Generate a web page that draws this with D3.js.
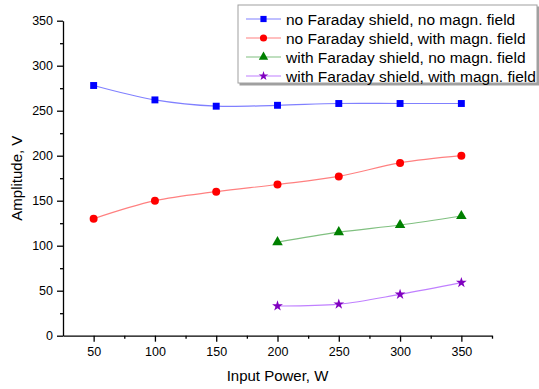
<!DOCTYPE html>
<html>
<head>
<meta charset="utf-8">
<script src="https://cdn.jsdelivr.net/npm/d3@7"></script>
<style>
  body { margin: 0; background: #fff; }
  svg { font-family: "Liberation Sans", Arial, sans-serif; }
  .axis path, .axis line { stroke: #000; stroke-width: 1.3; }
  .axis text { font-size: 12.5px; fill: #000; }
</style>
</head>
<body>
<svg width="539" height="389"></svg>
<script>
// data
const power = [50, 100, 150, 200, 250, 300, 350];
const noShieldNoField = [278, 262, 255, 256, 258, 258, 258];
const noShieldField = [130, 150, 160, 168, 177, 192, 200];
const powerShield = [200, 250, 300, 350];
const shieldNoField = [104, 115, 123, 133];
const shieldField = [33, 35, 46, 59];
const xTicks = [50, 100, 150, 200, 250, 300, 350];
const yTicks = [0, 50, 100, 150, 200, 250, 300, 350];

const series = [
    { name: 'no Faraday shield, no magn. field', xs: power, ys: noShieldNoField, color: '#0000ff', line: '#8080ff', sym: d3.symbolSquare, size: 48 },
    { name: 'no Faraday shield, with magn. field', xs: power, ys: noShieldField, color: '#ff0000', line: '#ff8080', sym: d3.symbolCircle, size: 50 },
    { name: 'with Faraday shield, no magn. field', xs: powerShield, ys: shieldNoField, color: '#008000', line: '#80c080', sym: d3.symbolTriangle, size: 48 },
    { name: 'with Faraday shield, with magn. field', xs: powerShield, ys: shieldField, color: '#8000c0', line: '#c080ff', sym: d3.symbolStar, size: 36 }
];

const margin = { top: 20.7, right: 47, bottom: 53.3, left: 63 };
const width = 539 - margin.left - margin.right;
const height = 389 - margin.top - margin.bottom;

const svg = d3.select('svg');
const g = svg.append('g')
    .attr('transform', 'translate(' + margin.left + ',' + margin.top + ')');

const x = d3.scaleLinear().domain([25, 375]).range([0, width]);
const y = d3.scaleLinear().domain([0, 350]).range([height, 0]);

// minor ticks
g.append('g')
    .attr('class', 'axis')
    .attr('transform', 'translate(0,' + height + ')')
    .call(d3.axisBottom(x).tickValues(d3.range(75, 376, 50)).tickSize(3).tickFormat(''))
    .select('.domain').remove();
g.append('g')
    .attr('class', 'axis')
    .call(d3.axisLeft(y).tickValues(d3.range(25, 350, 50)).tickSize(3).tickFormat(''))
    .select('.domain').remove();

// major axes
g.append('g')
    .attr('class', 'axis')
    .attr('transform', 'translate(0,' + height + ')')
    .call(d3.axisBottom(x).tickValues(xTicks).tickSize(6).tickSizeOuter(0).tickPadding(5));

g.append('g')
    .attr('class', 'axis')
    .call(d3.axisLeft(y).tickValues(yTicks).tickSize(6).tickSizeOuter(0).tickPadding(4));

svg.append('text')
    .attr('x', margin.left + width / 2)
    .attr('y', 381)
    .attr('text-anchor', 'middle')
    .style('font-size', '15px')
    .text('Input Power, W');

svg.append('text')
    .attr('transform', 'translate(22,' + (margin.top + height / 2) + ') rotate(-90)')
    .attr('text-anchor', 'middle')
    .style('font-size', '15px')
    .text('Amplitude, V');

const line = d3.line()
    .x((d) => x(d[0]))
    .y((d) => y(d[1]))
    .curve(d3.curveCatmullRom);

series.forEach((s) => {
    const pts = s.xs.map((v, i) => [v, s.ys[i]]);
    g.append('path')
        .datum(pts)
        .attr('fill', 'none')
        .attr('stroke', s.line)
        .attr('stroke-width', 1.2)
        .attr('d', line);
    g.selectAll(null)
        .data(pts)
        .enter()
        .append('path')
        .attr('transform', (d) => 'translate(' + x(d[0]) + ',' + y(d[1]) + ')')
        .attr('d', d3.symbol().type(s.sym).size(s.size))
        .attr('fill', s.color);
});

// legend
const legend = svg.append('g').attr('transform', 'translate(238,5)');
legend.append('rect')
    .attr('x', 1.5).attr('y', 1.5)
    .attr('width', 300).attr('height', 79)
    .attr('fill', '#a0a0a0');
legend.append('rect')
    .attr('width', 299).attr('height', 78)
    .attr('fill', '#fff')
    .attr('stroke', '#a0a0a0')
    .attr('stroke-width', 1);

series.forEach((s, i) => {
    const row = legend.append('g').attr('transform', 'translate(0,' + (14 + i * 19) + ')');
    row.append('line')
        .attr('x1', 8).attr('x2', 43)
        .attr('stroke', s.line)
        .attr('stroke-width', 1.2);
    row.append('path')
        .attr('transform', 'translate(25.5,0)')
        .attr('d', d3.symbol().type(s.sym).size(s.size * 0.8))
        .attr('fill', s.color);
    row.append('text')
        .attr('x', 48)
        .attr('y', 5.5)
        .style('font-size', '15.5px')
        .text(s.name);
});
</script>
</body>
</html>
